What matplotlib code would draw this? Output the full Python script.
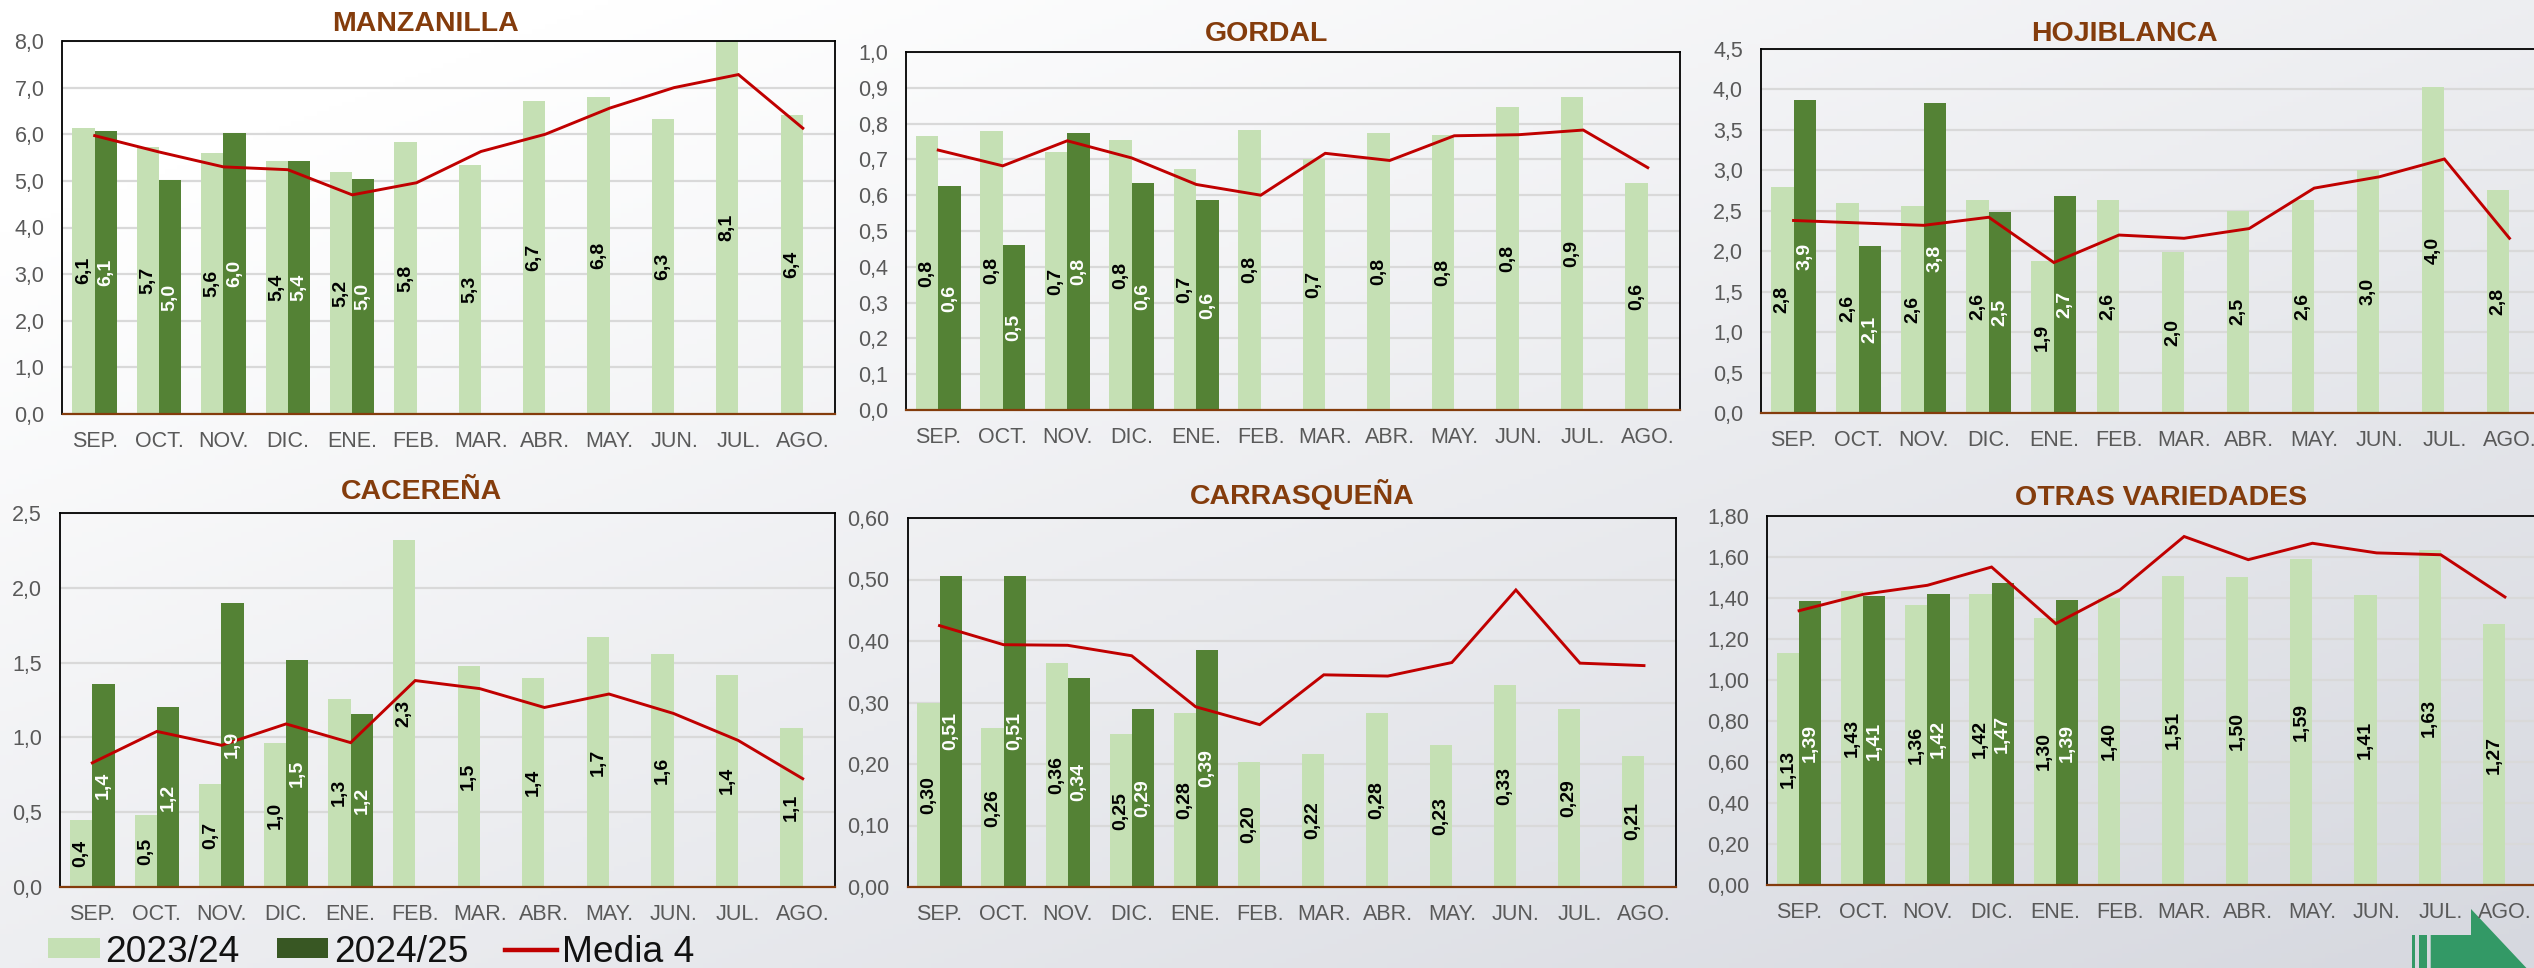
import numpy as np
import matplotlib
matplotlib.use("Agg")
import matplotlib.pyplot as plt
from matplotlib.lines import Line2D
from matplotlib.patches import Patch, Polygon, Rectangle

plt.rcParams["font.family"] = ["Liberation Sans", "DejaVu Sans"]

W, H = 2534, 968

meses = ["SEP.", "OCT.", "NOV.", "DIC.", "ENE.", "FEB.", "MAR.", "ABR.", "MAY.", "JUN.", "JUL.", "AGO."]

# valores
manz_2324 = [6.14, 5.73, 5.6, 5.42, 5.18, 5.83, 5.33, 6.72, 6.8, 6.32, 8.1, 6.42]
manz_2425 = [6.08, 5.02, 6.03, 5.43, 5.04]
manz_media = [5.97, 5.62, 5.3, 5.24, 4.7, 4.96, 5.63, 6.0, 6.56, 7.0, 7.28, 6.13]

gord_2324 = [0.764, 0.78, 0.72, 0.753, 0.673, 0.783, 0.70, 0.773, 0.769, 0.846, 0.875, 0.634]
gord_2425 = [0.625, 0.46, 0.773, 0.633, 0.586]
gord_media = [0.726, 0.682, 0.752, 0.704, 0.63, 0.60, 0.717, 0.697, 0.766, 0.769, 0.782, 0.677]

hoji_2324 = [2.80, 2.59, 2.56, 2.63, 1.88, 2.63, 1.99, 2.5, 2.63, 3.01, 4.03, 2.76]
hoji_2425 = [3.87, 2.06, 3.83, 2.49, 2.68]
hoji_media = [2.38, 2.35, 2.32, 2.42, 1.86, 2.2, 2.16, 2.28, 2.78, 2.92, 3.14, 2.16]

cace_2324 = [0.449, 0.48, 0.69, 0.96, 1.26, 2.32, 1.48, 1.40, 1.67, 1.555, 1.42, 1.06]
cace_2425 = [1.36, 1.2, 1.9, 1.52, 1.154]
cace_media = [0.83, 1.04, 0.947, 1.09, 0.965, 1.38, 1.326, 1.2, 1.29, 1.16, 0.98, 0.724]

carr_2324 = [0.30, 0.258, 0.364, 0.248, 0.283, 0.204, 0.216, 0.283, 0.231, 0.328, 0.289, 0.213]
carr_2425 = [0.506, 0.506, 0.34, 0.29, 0.386]
carr_media = [0.425, 0.394, 0.393, 0.376, 0.293, 0.264, 0.345, 0.343, 0.365, 0.483, 0.364, 0.36]

otra_2324 = [1.134, 1.432, 1.364, 1.42, 1.304, 1.40, 1.509, 1.502, 1.59, 1.413, 1.634, 1.273]
otra_2425 = [1.387, 1.41, 1.421, 1.474, 1.39]
otra_media = [1.338, 1.418, 1.462, 1.551, 1.275, 1.439, 1.70, 1.587, 1.667, 1.62, 1.611, 1.405]

# titulo, datos, ymax, paso, decimales, caja (izq, der, arriba, abajo), centro titulo en px
paneles = [
    ("MANZANILLA", manz_2324, manz_2425, manz_media, 8.0, 1.0, 1, (62.5, 835, 41, 414), (425, 24)),
    ("GORDAL", gord_2324, gord_2425, gord_media, 1.0, 0.1, 1, (906, 1680, 52, 410), (1267, 34)),
    ("HOJIBLANCA", hoji_2324, hoji_2425, hoji_media, 4.5, 0.5, 1, (1761, 2542, 49, 413), (2124, 34)),
    ("CACEREÑA", cace_2324, cace_2425, cace_media, 2.5, 0.5, 1, (60, 835, 513, 887), (422, 492)),
    ("CARRASQUEÑA", carr_2324, carr_2425, carr_media, 0.6, 0.1, 2, (907.5, 1676, 518, 887), (1302, 494)),
    ("OTRAS VARIEDADES", otra_2324, otra_2425, otra_media, 1.8, 0.2, 2, (1767, 2537, 516, 885), (2161, 498)),
]

CLARO = "#C5E0B4"
OSCURO = "#548235"
ROJO = "#C00000"
MARRON = "#843C0C"
GRIS = "#595959"


def coma(v, dec):
    return f"{v:.{dec}f}".replace(".", ",")


fig = plt.figure(figsize=(W / 100, H / 100), dpi=100)

# fondo degradado en diagonal
fondo = fig.add_axes([0, 0, 1, 1], zorder=0)
xx, yy = np.meshgrid(np.linspace(0, 1, 400), np.linspace(0, 1, 200))
t = np.clip((0.5 * xx + 0.5 * yy - 0.12) / 0.88, 0, 1)
blanco = np.array([255, 255, 255]) / 255
gris = np.array([214, 216, 223]) / 255
fondo.imshow(blanco + (gris - blanco) * t[..., None], aspect="auto", extent=(0, W, H, 0))
fondo.set_xlim(0, W)
fondo.set_ylim(H, 0)
fondo.axis("off")

x = np.arange(12)
ancho = 0.345

for titulo, v1, v2, media, ymax, paso, dec, caja, centro in paneles:
    izq, der, arr, aba = caja
    ax = fig.add_axes([izq / W, 1 - aba / H, (der - izq) / W, (aba - arr) / H], zorder=1)
    ax.patch.set_alpha(0)

    ax.bar(x - ancho / 2, v1, ancho, color=CLARO, zorder=2)
    ax.bar(x[:len(v2)] + ancho / 2, v2, ancho, color=OSCURO, zorder=2)
    ax.plot(x, media, color=ROJO, lw=2.1, zorder=3, solid_joinstyle="miter")

    for i, v in enumerate(v1):
        ax.text(i - ancho / 2, min(v, ymax) / 2, coma(v, dec), rotation=90, ha="center", va="center",
                fontsize=14, fontweight="bold", color="black", zorder=4)
    for i, v in enumerate(v2):
        ax.text(i + ancho / 2, min(v, ymax) / 2, coma(v, dec), rotation=90, ha="center", va="center",
                fontsize=14, fontweight="bold", color="white", zorder=4)

    ax.set_xlim(-0.5, 11.5)
    ax.set_ylim(0, ymax)
    ax.set_xticks(x, meses)
    yt = [paso * k for k in range(int(round(ymax / paso)) + 1)]
    ax.set_yticks(yt, [coma(v, dec) for v in yt])
    ax.tick_params(axis="x", length=0, pad=12, labelsize=15.5, labelcolor=GRIS)
    ax.tick_params(axis="y", length=0, pad=13, labelsize=15.5, labelcolor=GRIS)
    ax.grid(axis="y", color="#D9D9D9", lw=1.6, zorder=1)
    ax.set_axisbelow(True)
    for lado in ["top", "left", "right"]:
        ax.spines[lado].set_color("black")
        ax.spines[lado].set_linewidth(1.3)
    ax.spines["bottom"].set_color(MARRON)
    ax.spines["bottom"].set_linewidth(1.6)

    fig.text(centro[0] / W, 1 - centro[1] / H, titulo, ha="center", va="center", fontsize=20.5,
             fontweight="bold", color=MARRON, zorder=5)

# leyenda
handles = [
    Patch(color=CLARO, lw=0),
    Patch(color="#385723", lw=0),
    Line2D([0], [0], color=ROJO, lw=3.2),
]
fig.legend(handles, ["2023/24", "2024/25", "Media 4"], ncol=3, frameon=False, fontsize=26.7,
           loc="center left", bbox_to_anchor=(48 / W, 1 - 952 / H), borderpad=0, borderaxespad=0,
           handlelength=1.4, handleheight=0.45, handletextpad=0.14, columnspacing=1.0,
           labelcolor="#111111")

# logo flecha abajo a la derecha
VERDE = "#339966"
fondo.add_patch(Rectangle((2412, 935), 3.3, 40, color=VERDE, lw=0))
fondo.add_patch(Rectangle((2419.3, 935), 7.4, 40, color=VERDE, lw=0))
fondo.add_patch(Polygon([(2430.7, 935), (2471, 935), (2471, 909), (2533, 975), (2430.7, 975)], color=VERDE, lw=0))

plt.savefig("out.png", dpi=100)
